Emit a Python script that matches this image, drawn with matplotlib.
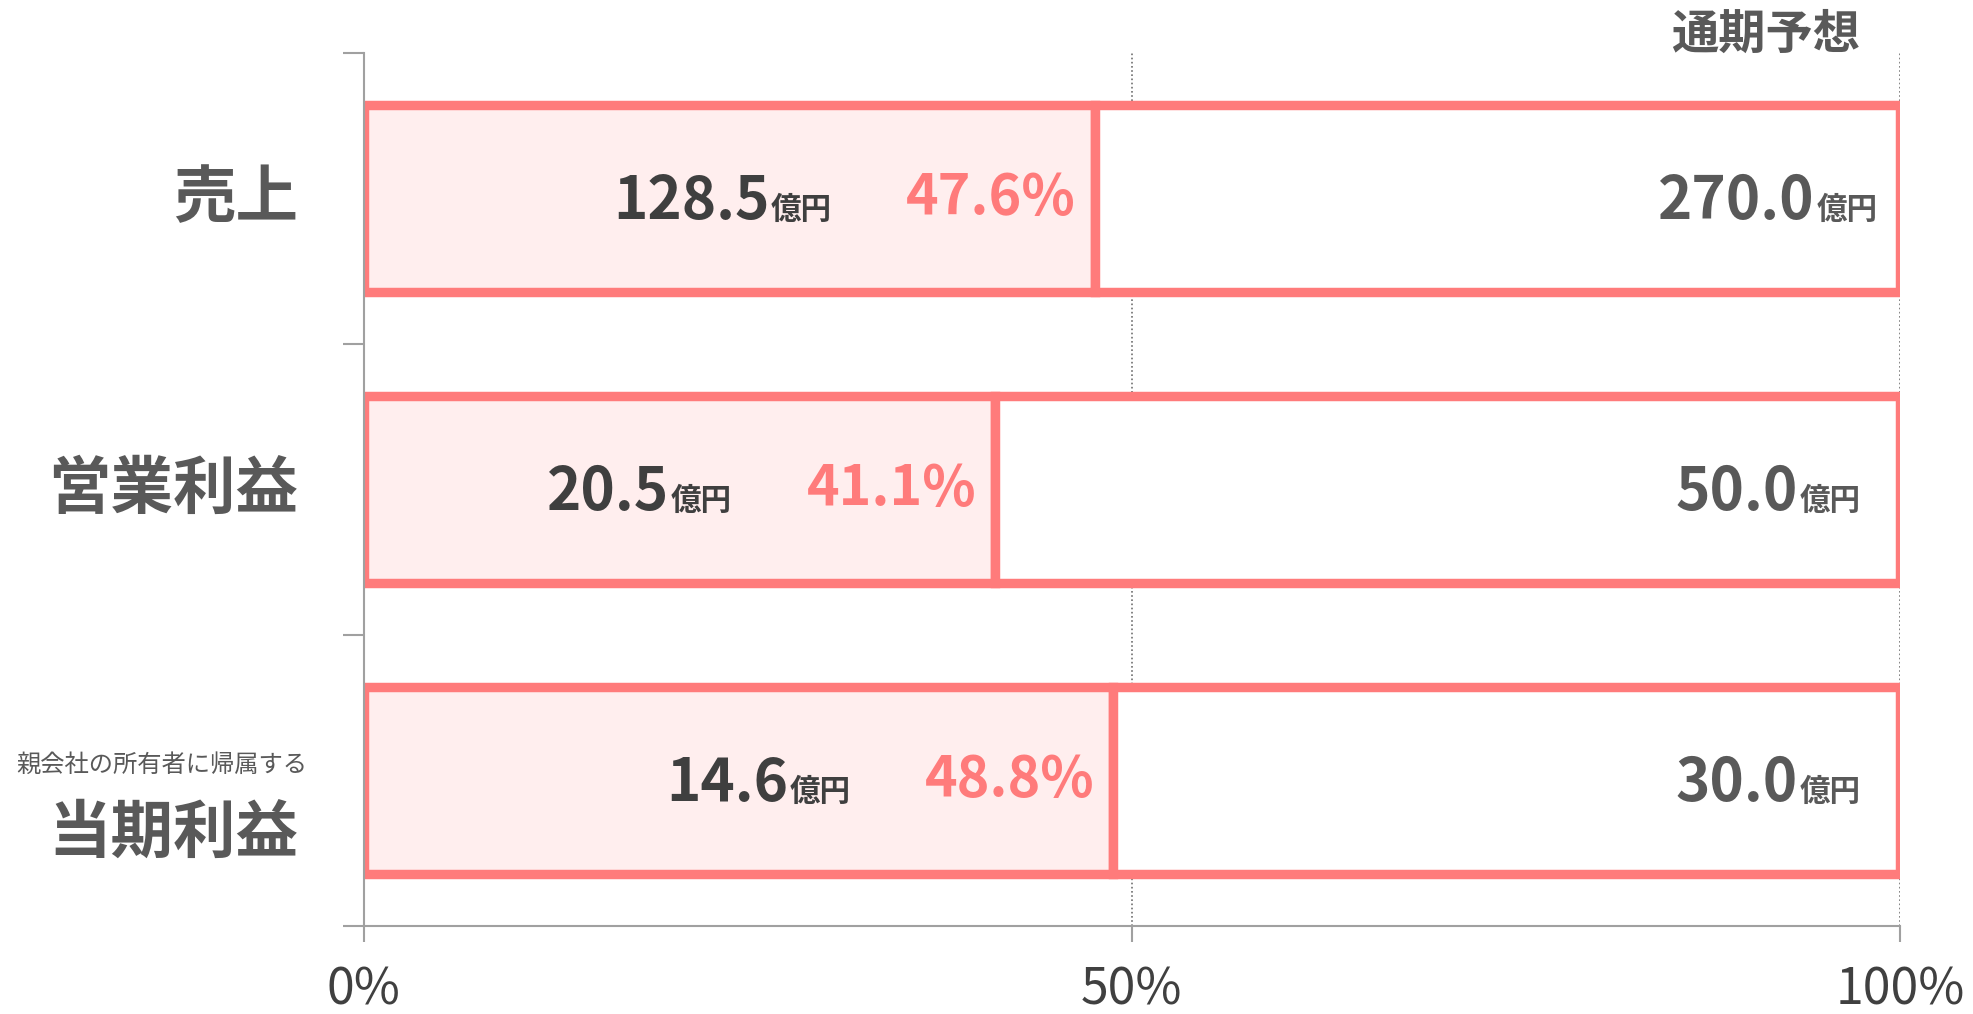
import matplotlib
matplotlib.use("Agg")
import matplotlib.pyplot as plt
from matplotlib.offsetbox import TextArea, HPacker, AnnotationBbox

plt.rcParams['font.family'] = ['Noto Sans CJK JP', 'DejaVu Sans']

# ---- data ----
categories = ['売上', '営業利益', '当期利益']
sub_labels = ['', '', '親会社の所有者に帰属する']
actual = [128.5, 20.5, 14.6]          # 億円
forecast = [270.0, 50.0, 30.0]        # 億円 (通期予想)
progress = [47.6, 41.1, 48.8]         # %
x_ticks = [0, 50, 100]
x_tick_labels = ['0%', '50%', '100%']

EDGE = '#FF7B7B'
FILL = '#FFEEEE'
DARK = '#3F3F3F'
GRAY = '#595959'
AXC = '#A0A0A0'

W, H = 1973, 1014
fig = plt.figure(figsize=(W / 100, H / 100), dpi=100)
left_px, right_px, top_px, bottom_px = 363.6, 1900, 52.8, 926
ax = fig.add_axes([left_px / W, 1 - bottom_px / H,
                   (right_px - left_px) / W, (bottom_px - top_px) / H])

y = list(range(len(categories)))
bar_h = 0.642
lw = 6.8
remain = [100 - p for p in progress]

ax.barh(y, progress, height=bar_h, color=FILL, edgecolor=EDGE, linewidth=lw, zorder=2)
ax.barh(y, remain, left=progress, height=bar_h, color='white', edgecolor=EDGE, linewidth=lw, zorder=2)

for xv in [50, 100]:
    ax.axvline(xv, color='#707070', linestyle=(0, (1, 1.5)), linewidth=1.2, zorder=1)

ax.set_xlim(0, 100)
ax.set_ylim(len(categories) - 0.5, -0.5)

ax.set_xticks(x_ticks)
ax.set_xticklabels(x_tick_labels, fontsize=36, color='#404040')
ax.set_yticks([i - 0.5 for i in range(len(categories) + 1)])
ax.set_yticklabels([])
ax.tick_params(axis='x', length=11.5, width=1.5, color=AXC, pad=16)
ax.tick_params(axis='y', length=15, width=1.5, color=AXC)
for s in ['top', 'right']:
    ax.spines[s].set_visible(False)
for s in ['left', 'bottom']:
    ax.spines[s].set_color(AXC)
    ax.spines[s].set_linewidth(1.5)


def value_box(val, color):
    t1 = TextArea(f"{val:.1f}", textprops=dict(fontsize=42, fontweight='bold', color=color))
    t2 = TextArea("億円", textprops=dict(fontsize=22, fontweight='bold', color=color))
    return HPacker(children=[t1, t2], align='baseline', pad=0, sep=1)


for i in y:
    # actual value
    ab = AnnotationBbox(value_box(actual[i], DARK), (progress[i], i), xycoords='data',
                        xybox=(-263, -4), boxcoords='offset pixels',
                        box_alignment=(1, 0.5), frameon=False, zorder=5)
    ax.add_artist(ab)
    # progress percentage
    ax.annotate(f"{progress[i]:.1f}%", xy=(progress[i], i), xycoords='data',
                xytext=(-19, 0), textcoords='offset pixels',
                ha='right', va='center', fontsize=40, fontweight='bold',
                color=EDGE, zorder=5)
    # forecast value
    ab2 = AnnotationBbox(value_box(forecast[i], GRAY), (91.4, i), xycoords='data',
                         xybox=(0, -4), boxcoords='offset pixels',
                         box_alignment=(0.5, 0.5), frameon=False, zorder=5)
    ax.add_artist(ab2)

# category labels
ytr = ax.get_yaxis_transform()
for i, cat in enumerate(categories):
    if sub_labels[i]:
        ax.annotate(sub_labels[i], xy=(0, i), xycoords=ytr, xytext=(-56, 16),
                    textcoords='offset pixels', ha='right', va='center',
                    fontsize=17.5, color=GRAY, annotation_clip=False)
        ax.annotate(cat, xy=(0, i), xycoords=ytr, xytext=(-65, -53),
                    textcoords='offset pixels', ha='right', va='center',
                    fontsize=45, fontweight='bold', color=GRAY, annotation_clip=False)
    else:
        ax.annotate(cat, xy=(0, i), xycoords=ytr, xytext=(-65, 0),
                    textcoords='offset pixels', ha='right', va='center',
                    fontsize=45, fontweight='bold', color=GRAY, annotation_clip=False)

# header
ax.annotate('通期予想', xy=(100, 1), xycoords=ax.get_xaxis_transform(),
            xytext=(-40, 18), textcoords='offset pixels', ha='right', va='center',
            fontsize=34, fontweight='bold', color=GRAY, annotation_clip=False)

fig.savefig('out.png', dpi=100, facecolor='white')
